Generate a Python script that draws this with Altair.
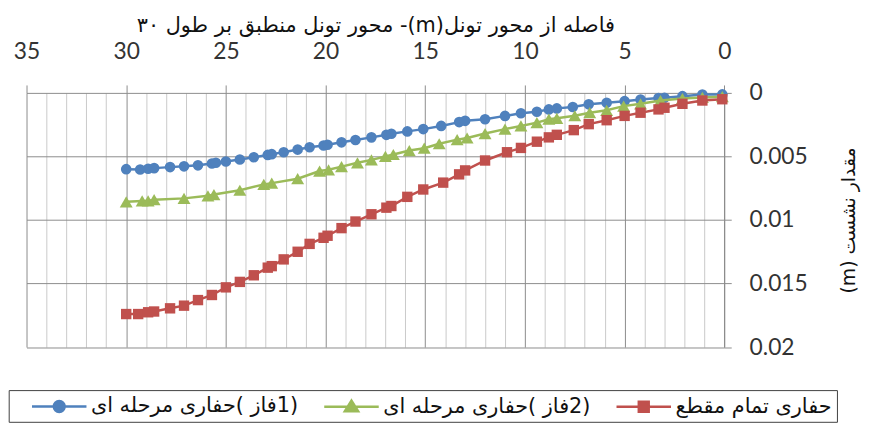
import altair as alt
import pandas as pd

# ---- data ----
blue_x = [30, 29.3, 28.9, 28.6, 27.8, 27.1, 26.4, 25.7, 25.5, 25.0, 24.3, 23.6, 22.9, 22.7, 22.1, 21.4, 20.8,
          20.1, 19.9, 19.2, 18.5, 17.7, 16.95, 16.7, 15.9, 15.1, 14.2, 13.3, 13.0, 12.0, 11.0, 10.2, 9.4,
          8.8, 8.4, 7.6, 6.8, 5.9, 5.0, 4.2, 3.3, 3.0, 2.1, 1.1, 0.1]
blue_y = [0.0060, 0.00603, 0.00597, 0.00592, 0.00584, 0.00578, 0.0057, 0.00556, 0.00550, 0.0054, 0.00524,
          0.00506, 0.00488, 0.00482, 0.00467, 0.00446, 0.00428, 0.00414, 0.00408, 0.00389, 0.00371, 0.0035,
          0.0033, 0.00322, 0.00303, 0.00285, 0.0026, 0.0023, 0.0022, 0.00207, 0.00181, 0.0016, 0.00148,
          0.0013, 0.00122, 0.00111, 0.0009, 0.00078, 0.00065, 0.00052, 0.0004, 0.00038, 0.00026, 0.00013, 0.00012]

green_x = [30, 29.2, 28.9, 28.6, 27.1, 25.9, 25.6, 24.3, 23.1, 22.7, 21.4, 20.3, 19.85, 19.2, 18.4, 17.7,
           17.0, 16.6, 15.8, 15.05, 14.3, 13.4, 12.9, 12.0, 11.0, 10.2, 9.4, 8.8, 8.4, 7.5, 6.75, 5.9, 5.05,
           4.2, 3.2, 2.1, 1.1, 0.1]
green_y = [0.00857, 0.0085, 0.0085, 0.0084, 0.0083, 0.0081, 0.0080, 0.00766, 0.0072, 0.0071, 0.00675,
           0.00615, 0.00605, 0.0058, 0.0055, 0.00527, 0.0050, 0.00485, 0.00454, 0.00435, 0.0040, 0.00368,
           0.00355, 0.0032, 0.00285, 0.0026, 0.00234, 0.00207, 0.0020, 0.0018, 0.00156, 0.00137, 0.00104,
           0.00086, 0.0006, 0.00044, 0.00036, 0.0003]

red_x = [30, 29.4, 28.9, 28.6, 27.8, 27.1, 26.4, 25.7, 25.0, 24.3, 23.6, 22.9, 22.7, 22.1, 21.4, 20.8, 20.1,
         19.9, 19.2, 18.5, 17.7, 16.95, 16.7, 15.9, 15.1, 14.1, 13.3, 13.0, 12.0, 10.9, 10.2, 9.4, 8.8, 8.4,
         7.55, 6.8, 5.9, 5.0, 4.2, 3.3, 3.0, 2.1, 1.1, 0.1]
red_y = [0.0174, 0.0174, 0.01726, 0.0172, 0.01695, 0.01674, 0.0163, 0.0159, 0.0153, 0.01487, 0.01435,
         0.01375, 0.01363, 0.0131, 0.0125, 0.01188, 0.0114, 0.01124, 0.01064, 0.01012, 0.00955, 0.00903,
         0.0089, 0.00818, 0.0076, 0.00706, 0.00641, 0.0061, 0.00532, 0.00467, 0.00433, 0.00384, 0.0035,
         0.0033, 0.00293, 0.00246, 0.00215, 0.00181, 0.00156, 0.0013, 0.00117, 0.00086, 0.0006, 0.0005]

LRM = "\u200e"
series_names = [
    "حفاری مرحله ای" + LRM + "( فاز" + LRM + "1)",
    "حفاری مرحله ای" + LRM + "( فاز" + LRM + "2)",
    "حفاری تمام مقطع",
]
series_colors = ["#4F81BD", "#9BBB59", "#C0504D"]
marker_shapes = ["circle", "triangle-up", "square"]
marker_sizes = [115, 170, 110]
# legend glyphs: a line segment with the series marker in its middle
legend_paths = [
    "M-1,0H4.5M1.2,0A0.55,0.55,0,1,1,2.3,0A0.55,0.55,0,1,1,1.2,0Z",
    "M-1,0H4.5M1.75,-0.62L2.42,0.45L1.08,0.45Z",
    "M-1,0H4.5M1.25,-0.5H2.25V0.5H1.25Z",
]

x_ticks = [0, 5, 10, 15, 20, 25, 30, 35]
x_minor = [v for v in range(0, 36) if v % 5 != 0]
y_ticks = [0, 0.005, 0.01, 0.015, 0.02]

x_title = "\u202b" + "فاصله از محور تونل(m)- محور تونل منطبق بر طول ۳۰" + "\u202c"
y_title = "\u202b" + "مقدار نشست (m)" + "\u202c"

rows = []
for name, xs, ys in zip(series_names, [blue_x, green_x, red_x], [blue_y, green_y, red_y]):
    for xv, yv in zip(xs, ys):
        rows.append({"x": xv, "y": yv, "s": name})
df = pd.DataFrame(rows)

xscale = alt.Scale(domain=[0, 35], reverse=True, nice=False, zero=False)
yscale = alt.Scale(domain=[0, 0.02], reverse=True, nice=False, zero=False)

X_major = alt.X("x:Q", scale=xscale, axis=alt.Axis(
    orient="top", values=x_ticks, grid=True, gridColor="#8c8c8c", gridWidth=1,
    tickColor="#8c8c8c", tickSize=8, tickWidth=1, domain=False,
    labelFont="Lato", labelFontSize=23, labelColor="#333333", labelPadding=22,
    labelFlush=False,
    title=x_title, titleFont="DejaVu Sans", titleFontSize=21, titleFontWeight="normal",
    titleColor="#111111", titlePadding=5))
X_minor = alt.X("x:Q", scale=xscale, axis=alt.Axis(
    orient="bottom", values=x_minor, grid=True, gridColor="#c9c9c9", gridWidth=1,
    ticks=False, labels=False, domain=False, title=None))
Y = alt.Y("y:Q", scale=yscale, axis=alt.Axis(
    orient="right", values=y_ticks, format="~g", grid=True, gridColor="#8c8c8c", gridWidth=1,
    domain=True, domainColor="#8c8c8c", tickColor="#8c8c8c", tickSize=7,
    labelFont="Lato", labelFontSize=23, labelColor="#333333", labelPadding=18, labelFlush=False,
    title=y_title, titleFont="DejaVu Sans", titleFontSize=19, titleFontWeight="normal",
    titleColor="#111111", titleAngle=270, titlePadding=52))

base = alt.Chart(df)

minor_layer = base.mark_point(opacity=0).encode(x=X_minor, y=Y)

series_layers = []
for name, col, shp, sz in zip(series_names, series_colors, marker_shapes, marker_sizes):
    f = base.transform_filter(alt.datum.s == name)
    series_layers.append(f.mark_line(color=col, strokeWidth=2.5).encode(x=X_major, y=Y))
    series_layers.append(f.mark_point(shape=shp, filled=True, size=sz, color=col, opacity=1)
                         .encode(x=X_major, y=Y))

leg = alt.Legend(
    orient="none", legendX=-18, legendY=300, direction="horizontal",
    title=" ", titleOrient="left", titlePadding=17, titleFontSize=10,
    strokeColor="#404040", fillColor="white", padding=5,
    labelFont="DejaVu Sans", labelFontSize=21, labelColor="#111111", labelLimit=500,
    labelOffset=38, columnPadding=20, symbolSize=400, symbolStrokeWidth=2.5, symbolOpacity=1)

legend_layer = base.transform_filter("false").mark_point(filled=True, opacity=1).encode(
    x=X_major, y=Y,
    fill=alt.Fill("s:N", scale=alt.Scale(domain=series_names, range=series_colors), legend=leg),
    stroke=alt.Stroke("s:N", scale=alt.Scale(domain=series_names, range=series_colors), legend=leg),
    shape=alt.Shape("s:N", scale=alt.Scale(domain=series_names, range=legend_paths), legend=leg),
)

inner = alt.layer(*series_layers, legend_layer)

chart = alt.layer(minor_layer, inner).resolve_axis(x="independent").properties(
    width=704.3, height=256.6,
    autosize=alt.AutoSizeParams(type="none"),
    padding={"left": 18.7, "top": 83.7, "right": 140, "bottom": 81.7},
).configure_view(stroke=None)

chart.save("out.html", embed_options={"renderer": "svg", "actions": False})
